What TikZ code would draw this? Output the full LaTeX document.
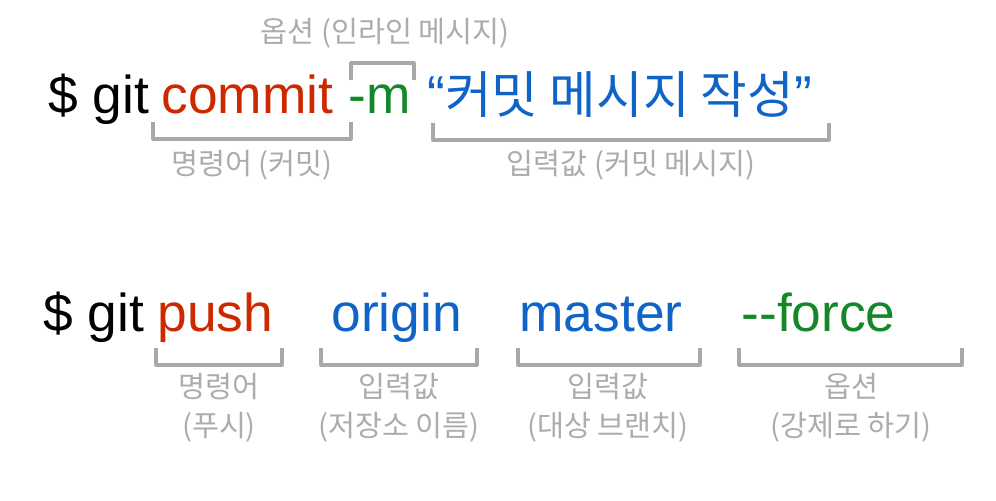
\documentclass[tikz,border=0pt]{standalone}
\usepackage{fontspec}
\setmainfont{Liberation Sans}
\newfontfamily\kr{Noto Sans CJK KR}

\definecolor{cmdred}{RGB}{204,41,0}
\definecolor{optgreen}{RGB}{20,135,40}
\definecolor{argblue}{RGB}{16,100,200}
\definecolor{lblgray}{RGB}{172,172,172}
\definecolor{brkgray}{RGB}{168,168,168}

\tikzset{every picture/.style={line width=0.75pt}}
\tikzset{
  word/.style={font=\fontsize{40}{40}\selectfont, inner sep=0pt, anchor=base west},
  lbl/.style={font=\kr\fontsize{22}{29}\selectfont, text=lblgray, inner sep=0pt, align=center},
  brk/.style={draw=brkgray, line width=2.4pt, line join=round}
}

\begin{document}
\begin{tikzpicture}[x=0.75pt,y=0.75pt,yscale=-1,xscale=1]
\useasboundingbox (0,0) rectangle (996,500);

% Text Node
\draw (48,113) node (gitA) [word] {\$ git};
% Text Node
\draw (161,113) node (commit) [word, text=cmdred] {commit};
% Text Node
\draw (348,113) node (mflag) [word, text=optgreen] {-m};
% Text Node
\draw (427,113) node (msg) [word, text=argblue] {“{\kr\fontsize{38}{38}\selectfont 커밋 메시지 작성}”};

%Shape: Bracket
\draw [brk] (153,122) -- (153,139) -- (351,139) -- (351,122) ;
%Shape: Bracket
\draw [brk] (351,80) -- (351,63) -- (414,63) -- (414,80) ;
%Shape: Bracket
\draw [brk] (433,123) -- (433,140) -- (829,140) -- (829,123) ;

% Text Node
\draw (385,33) node (lblM) [lbl] {옵션 (인라인 메시지)};
% Text Node
\draw (252,165) node (lblCommit) [lbl] {명령어 (커밋)};
% Text Node
\draw (631,165) node (lblMsg) [lbl] {입력값 (커밋 메시지)};

% Text Node
\draw (43,331) node (gitB) [word] {\$ git};
% Text Node
\draw (157,331) node (push) [word, text=cmdred] {push};
% Text Node
\draw (331,331) node (origin) [word, text=argblue] {origin};
% Text Node
\draw (519,331) node (master) [word, text=argblue] {master};
% Text Node
\draw (741,331) node (force) [word, text=optgreen] {{-}{-}force};

%Shape: Bracket
\draw [brk] (156,348) -- (156,365) -- (282,365) -- (282,348) ;
%Shape: Bracket
\draw [brk] (321,348) -- (321,365) -- (477,365) -- (477,348) ;
%Shape: Bracket
\draw [brk] (518,348) -- (518,365) -- (700,365) -- (700,348) ;
%Shape: Bracket
\draw [brk] (739,348) -- (739,365) -- (962,365) -- (962,348) ;

% Text Node
\draw (219,408) node (lblPush) [lbl] {명령어\\(푸시)};
% Text Node
\draw (399,408) node (lblOrigin) [lbl] {입력값\\(저장소 이름)};
% Text Node
\draw (608,408) node (lblMaster) [lbl] {입력값\\(대상 브랜치)};
% Text Node
\draw (851,408) node (lblForce) [lbl] {옵션\\(강제로 하기)};

\end{tikzpicture}
\end{document}
